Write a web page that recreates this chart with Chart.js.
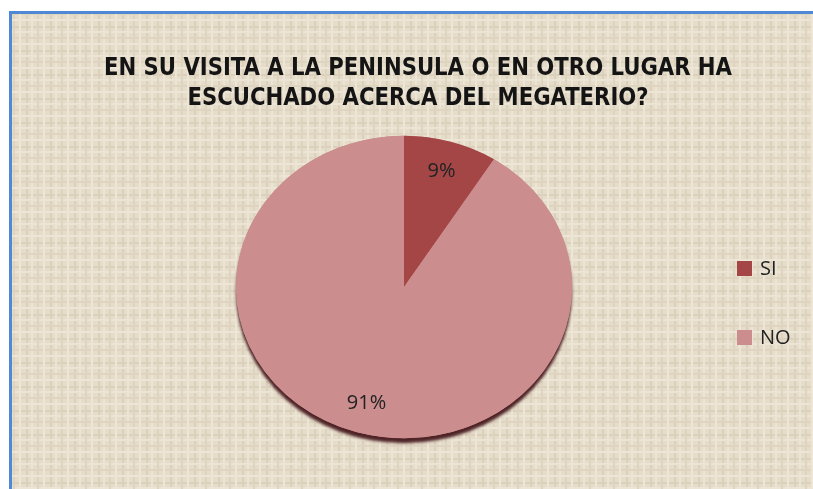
<!DOCTYPE html>
<html><head><meta charset="utf-8">
<script src="https://cdn.jsdelivr.net/npm/chart.js@4"></script>
<style>
html,body{margin:0;padding:0;background:#fff;}
#wrap{position:absolute;left:0;top:0;width:813px;height:489px;}
</style></head>
<body><div id="wrap"><canvas id="c" width="813" height="489"></canvas></div>
<script>
const titleLines = ["EN SU VISITA A LA PENINSULA O EN OTRO LUGAR HA", "ESCUCHADO ACERCA DEL MEGATERIO?"];
const categories = ["SI", "NO"];
const values = [9, 91];
const colors = ["#a44646", "#cb8d8d"];

const Y_SCALE = 0.9;

function makePattern(ctx){
  const p = document.createElement('canvas');
  p.width = 24; p.height = 24;
  const g = p.getContext('2d');
  g.fillStyle = '#e6ddca'; g.fillRect(0,0,24,24);
  const lines = [[2,'#d2c8b2'],[7,'#f1eadb'],[13,'#d9cfba'],[19,'#f2ecde']];
  lines.forEach(([o,c])=>{ g.fillStyle=c; g.fillRect(o,0,2,24); g.fillRect(0,o,24,2); });
  g.globalAlpha = 0.4; g.fillStyle = '#e6ddca'; g.fillRect(0,0,24,24);
  return ctx.createPattern(p,'repeat');
}

const bgPlugin = {
  id:'bg',
  beforeDraw(chart){
    const ctx = chart.ctx;
    ctx.save();
    ctx.fillStyle = '#ffffff'; ctx.fillRect(0,0,chart.width,chart.height);
    ctx.fillStyle = makePattern(ctx);
    ctx.fillRect(12,14,chart.width-12,chart.height-14);
    ctx.fillStyle = '#4f89d6';
    ctx.fillRect(9,11,chart.width-9,3);
    ctx.fillRect(9,11,3,chart.height-11);
    // title
    ctx.fillStyle = '#141414';
    ctx.textAlign = 'center'; ctx.textBaseline = 'middle';
    ctx.font = 'bold 25px "Liberation Sans Narrow", "DejaVu Sans Condensed", sans-serif';
    const w1 = ctx.measureText(titleLines[0]).width;
    const s = 628 / w1;
    ctx.fillText(titleLines[0], 418, 68, w1*s);
    const w2 = ctx.measureText(titleLines[1]).width;
    ctx.fillText(titleLines[1], 418, 98, w2*s);
    ctx.restore();
  }
};

const ellipsePlugin = {
  id:'ellipse',
  beforeDatasetsDraw(chart){
    const ctx = chart.ctx;
    const arc = chart.getDatasetMeta(0).data[0];
    const cx = arc.x, cy = arc.y, r = arc.outerRadius;
    ctx.save();
    ctx.translate(cx, cy); ctx.scale(1, Y_SCALE); ctx.translate(-cx, -cy);
    ctx.save();
    ctx.shadowColor = 'rgba(70,25,30,0.95)';
    ctx.shadowOffsetY = 5; ctx.shadowBlur = 3;
    ctx.beginPath(); ctx.arc(cx, cy, r, 0, Math.PI*2);
    ctx.fillStyle = colors[1]; ctx.fill();
    ctx.restore();
  },
  afterDatasetsDraw(chart){
    const ctx = chart.ctx;
    ctx.restore();
    const meta = chart.getDatasetMeta(0);
    ctx.save();
    ctx.fillStyle = '#222';
    ctx.font = '20px "Open Sans", "Liberation Sans", sans-serif';
    ctx.textAlign = 'center'; ctx.textBaseline = 'middle';
    const total = values.reduce((a,b)=>a+b,0);
    meta.data.forEach((a,i)=>{
      const mid = (a.startAngle + a.endAngle)/2;
      const rr = a.outerRadius*0.8;
      const x = a.x + Math.cos(mid)*rr;
      const y = a.y + Math.sin(mid)*rr*Y_SCALE;
      ctx.fillText(Math.round(values[i]/total*100)+'%', x, y);
    });
    ctx.textAlign = 'left';
    categories.forEach((c,i)=>{
      const y = 268 + i*69;
      ctx.fillStyle = colors[i];
      ctx.fillRect(737, y-7, 15, 15);
      ctx.fillStyle = '#222';
      ctx.fillText(c, 760, y+1);
    });
    ctx.restore();
  }
};

new Chart(document.getElementById('c'), {
  type:'pie',
  data:{ labels:categories, datasets:[{ data:values, backgroundColor:colors, borderWidth:0 }]},
  options:{
    responsive:false, animation:false,
    layout:{ padding:{ left:236, right:241, top:119, bottom:34 } },
    plugins:{ legend:{display:false}, tooltip:{enabled:false}, title:{display:false} }
  },
  plugins:[bgPlugin, ellipsePlugin]
});
</script></body></html>
